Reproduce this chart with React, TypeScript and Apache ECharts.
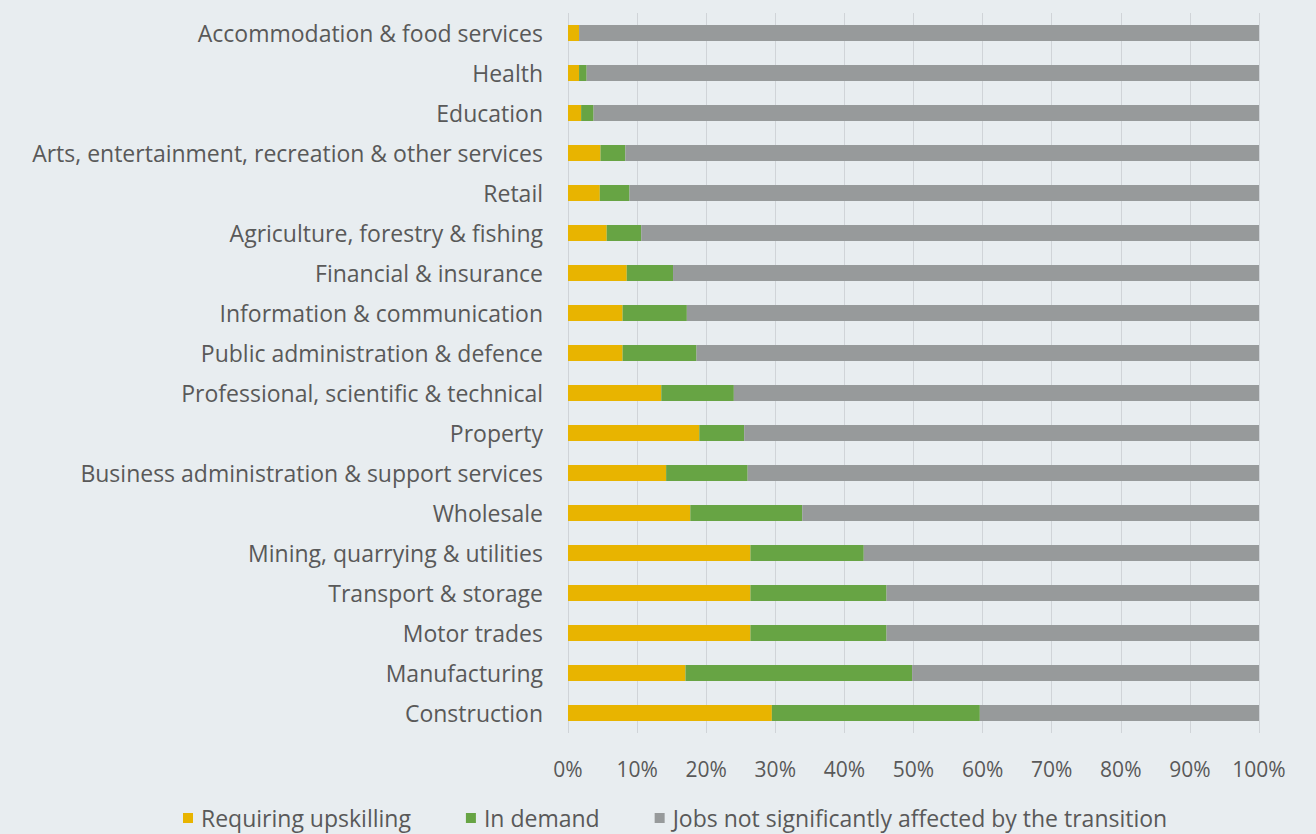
import React, { useEffect, useRef } from "react";
import * as echarts from "echarts";

const categories = [
  "Accommodation & food services",
  "Health",
  "Education",
  "Arts, entertainment, recreation & other services",
  "Retail",
  "Agriculture, forestry & fishing",
  "Financial & insurance",
  "Information & communication",
  "Public administration & defence",
  "Professional, scientific & technical",
  "Property",
  "Business administration & support services",
  "Wholesale",
  "Mining, quarrying & utilities",
  "Transport & storage",
  "Motor trades",
  "Manufacturing",
  "Construction",
];

const requiringUpskilling = [1.6, 1.6, 1.9, 4.7, 4.6, 5.6, 8.5, 7.9, 7.9, 13.5, 19.0, 14.2, 17.7, 26.4, 26.4, 26.4, 17.0, 29.5];
const inDemand = [0, 1.1, 1.8, 3.6, 4.3, 5.0, 6.7, 9.3, 10.7, 10.5, 6.5, 11.8, 16.2, 16.4, 19.7, 19.7, 32.8, 30.1];
const notAffected = [98.4, 97.3, 96.3, 91.7, 91.1, 89.4, 84.8, 82.8, 81.4, 76.0, 74.5, 74.0, 66.1, 57.2, 53.9, 53.9, 50.2, 40.4];

const seriesNames = [
  "Requiring upskilling",
  "In demand",
  "Jobs not significantly affected by the transition",
];
const colors = ["#E8B400", "#67A444", "#979A9B"];

const FONT = "Open Sans";

export default function App() {
  const ref = useRef<HTMLDivElement>(null);
  useEffect(() => {
    if (!ref.current) return;
    const chart = echarts.init(ref.current, undefined, { renderer: "svg" });
    const values = [requiringUpskilling, inDemand, notAffected];
    chart.setOption({
      animation: false,
      backgroundColor: "#E8EDF0",
      textStyle: { fontFamily: FONT },
      grid: { left: 568, right: 57, top: 13, bottom: 101, containLabel: false },
      legend: {
        left: 183,
        top: 806,
        padding: 0,
        itemWidth: 10,
        itemHeight: 10,
        itemGap: 55,
        icon: "rect",
        textStyle: { fontFamily: FONT, fontSize: 23, lineHeight: 24, color: "#595959", padding: [0, 0, 0, 3] },
        data: seriesNames,
      },
      xAxis: {
        type: "value",
        min: 0,
        max: 100,
        interval: 10,
        axisLine: { show: false },
        axisTick: { show: false },
        axisLabel: { formatter: "{value}%", fontSize: 21, color: "#595959", margin: 25, fontFamily: FONT },
        splitLine: { show: true, lineStyle: { color: "#D0D4D8", width: 1 } },
      },
      yAxis: {
        type: "category",
        inverse: true,
        data: categories,
        axisLine: { show: false },
        axisTick: { show: false },
        axisLabel: { fontSize: 23, color: "#595959", margin: 25, fontFamily: FONT },
      },
      series: seriesNames.map((name, i) => ({
        name,
        type: "bar",
        stack: "total",
        barWidth: 16,
        itemStyle: { color: colors[i] },
        data: values[i],
      })),
    });
    return () => chart.dispose();
  }, []);
  return (
    <div
      ref={ref}
      style={{ position: "fixed", left: 0, top: 0, width: 1316, height: 834 }}
    />
  );
}
